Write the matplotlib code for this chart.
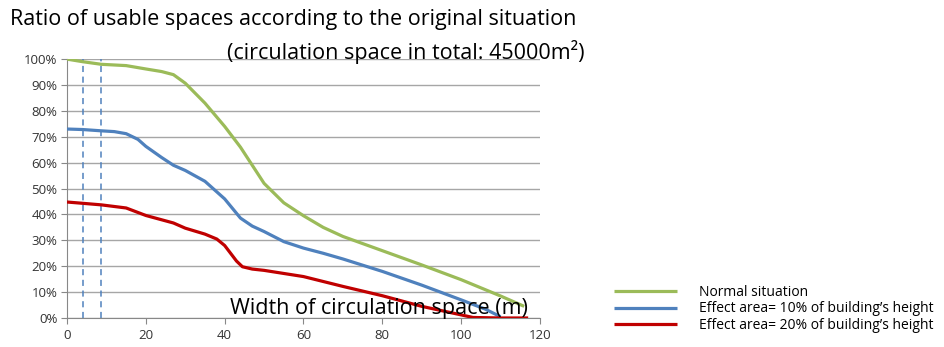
import matplotlib.pyplot as plt
from matplotlib.ticker import PercentFormatter

plt.rcParams['font.family'] = ['Open Sans', 'DejaVu Sans']

# Width of circulation space (m) and ratio of usable spaces (%)
x_normal = [0, 4, 8.7, 15, 20, 24, 27, 30, 35, 40, 44, 47, 50, 55, 60, 65, 70, 80, 90, 100, 110, 116]
y_normal = [100, 99, 98, 97.5, 96.2, 95.2, 94, 90.7, 83, 74, 66, 59, 52, 44.5, 39.5, 35, 31.5, 26, 20.5, 14.8, 8.5, 4.5]

x_10 = [0, 4, 8.7, 12, 15, 18, 20, 24, 27, 30, 35, 40, 44, 47, 50, 55, 60, 65, 70, 80, 90, 100, 106, 110]
y_10 = [73, 72.8, 72.3, 72, 71.2, 69, 66.3, 62, 59, 57, 52.8, 46, 38.6, 35.5, 33.4, 29.5, 27, 25, 22.8, 18, 12.7, 7, 3.5, 0.5]

x_20 = [0, 4, 8.7, 15, 20, 27, 30, 35, 38, 40, 41.5, 43, 44.5, 47, 50, 60, 70, 80, 90, 100, 103, 110, 117]
y_20 = [44.8, 44.3, 43.7, 42.5, 39.6, 36.7, 34.7, 32.4, 30.5, 28, 25, 22, 19.8, 18.9, 18.4, 16, 12.2, 8.6, 4.5, 1.2, 0.2, 0, 0]

dashed_x = [4, 8.7]

series_labels = ['Normal situation',
                 "Effect area= 10% of building\u2019s height",
                 "Effect area= 20% of building\u2019s height"]
series_colors = ['#9BBB59', '#4F81BD', '#C00000']

fig = plt.figure(figsize=(9.44, 3.47), dpi=100)
ax = fig.add_axes([0.071, 0.0836, 0.501, 0.746])

lines = []
for xs, ys, c in zip([x_normal, x_10, x_20], [y_normal, y_10, y_20], series_colors):
    ln, = ax.plot(xs, ys, color=c, lw=2.3, solid_capstyle='butt',
                  solid_joinstyle='round', zorder=3)
    lines.append(ln)

for dx in dashed_x:
    ax.plot([dx, dx], [0, 100], color='#4F81BD', lw=1.1, ls=(0, (4, 3)), zorder=2)

ax.set_xlim(0, 120)
ax.set_ylim(0, 100)
ax.set_xticks(range(0, 121, 20))
ax.set_yticks(range(0, 101, 10))
ax.yaxis.set_major_formatter(PercentFormatter(decimals=0))
ax.grid(True, axis='y', color='#A6A6A6', lw=1)
ax.set_axisbelow(True)
for s in ['top', 'right']:
    ax.spines[s].set_visible(False)
for s in ['left', 'bottom']:
    ax.spines[s].set_color('#888888')
ax.tick_params(axis='both', labelsize=9.5, colors='#333333', length=4, color='#888888')
ax.tick_params(axis='x', pad=4)
ax.tick_params(axis='y', pad=3)

ax.text(117, -0.5, 'Width of circulation space (m)', fontsize=15.5, ha='right', va='bottom', zorder=5)

fig.text(0.0105, 0.945, 'Ratio of usable spaces according to the original situation',
         fontsize=15.5, ha='left', va='center')
fig.text(0.619, 0.85, '(circulation space in total: 45000m\u00b2)',
         fontsize=15.5, ha='right', va='center')

fig.legend(lines, series_labels, loc='lower left', bbox_to_anchor=(0.645, 0.025),
           frameon=False, fontsize=10, handlelength=4.5, handletextpad=1.6,
           labelspacing=0.1, borderaxespad=0)

fig.savefig('out.png', dpi=100)
